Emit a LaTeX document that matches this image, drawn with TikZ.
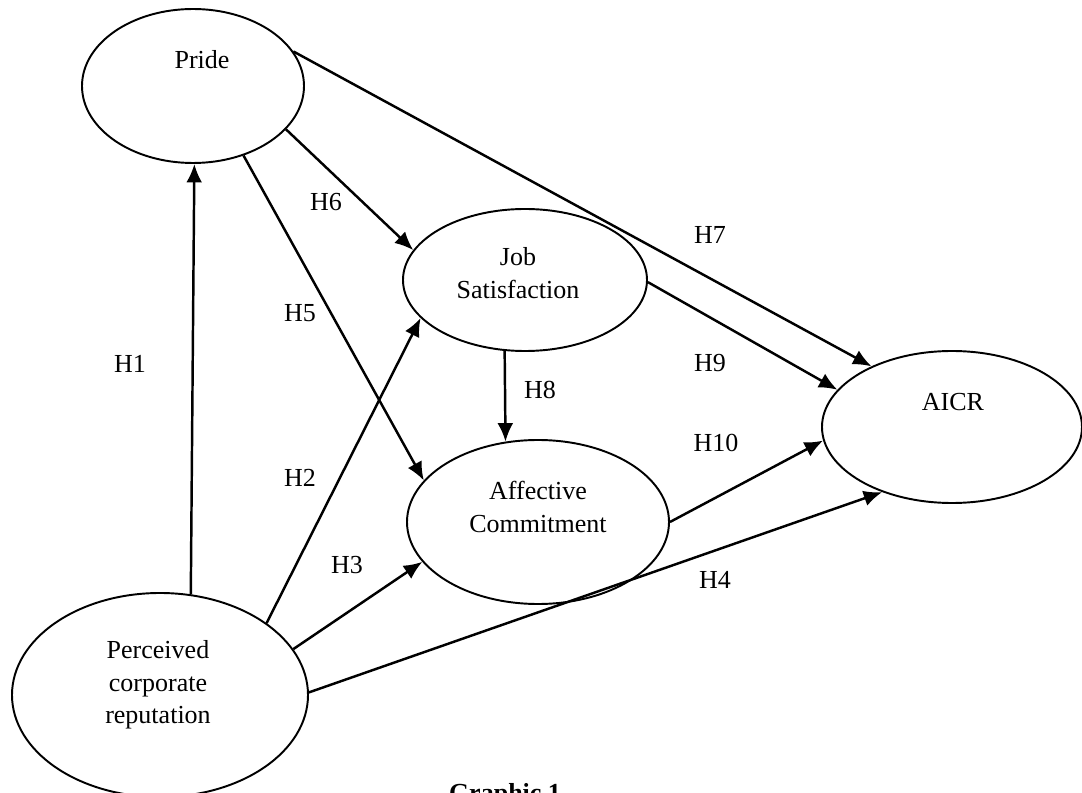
\documentclass[tikz,border=0pt]{standalone}
\usepackage{fontspec}
\setmainfont{Liberation Serif}
\usetikzlibrary{shapes.geometric,arrows.meta}

\tikzstyle{hyp-construct}=[ellipse,
                           draw=black,
                           line width=1.1pt,
                           inner sep=0pt,
                          ]
\tikzstyle{hyp-text}=[align=center,
                      font=\fontsize{14.8pt}{18.5pt}\selectfont]
\tikzstyle{hyp-label}=[font=\fontsize{14.8pt}{18.5pt}\selectfont]
\tikzstyle{hyp-path}=[-{Latex[length=10.5pt, width=9pt]}, line width=1.4pt]

\begin{document}
\begin{tikzpicture}
    \useasboundingbox (0,0) rectangle (21.64,15.84);

    % Constructs
    % --------------------------------------------------------------------------
    \node at ( 3.86, 14.12) (pride) [hyp-construct, minimum width=4.44cm, minimum height=3.08cm] {};
    \node at (10.50, 10.24) (js)    [hyp-construct, minimum width=4.88cm, minimum height=2.84cm] {};
    \node at (10.76,  5.40) (ac)    [hyp-construct, minimum width=5.24cm, minimum height=3.28cm] {};
    \node at (19.04,  7.30) (aicr)  [hyp-construct, minimum width=5.20cm, minimum height=3.04cm] {};
    \node at ( 3.20,  1.94) (pcr)   [hyp-construct, minimum width=5.92cm, minimum height=4.08cm] {};

    \node at ( 4.04, 14.64) (pride_text) [hyp-text] {Pride};
    \node at (10.36, 10.38) (js_text)    [hyp-text] {Job\\Satisfaction};
    \node at (10.76,  5.70) (ac_text)    [hyp-text] {Affective\\Commitment};
    \node at (19.06,  7.80) (aicr_text)  [hyp-text] {AICR};
    \node at ( 3.16,  2.14) (pcr_text)   [hyp-text] {Perceived\\corporate\\reputation};

    % Caption
    % --------------------------------------------------------------------------
    \node at (10.10, -0.20) (caption) [hyp-label, anchor=base] {\textbf{Graphic 1}};

    % Arrows
    % --------------------------------------------------------------------------
    \draw[hyp-path] (pcr.73)    -- (pride.-89);
    \draw[hyp-path] (pride.-54) -- (ac.160);
    \draw[hyp-path] (pride.-25) -- (js.165);
    \draw[hyp-path] (pride.19)  -- (aicr.143);
    \draw[hyp-path] (pcr.34)    -- (js.-160);
    \draw[hyp-path] (pcr.19)    -- (ac.-161);
    \draw[hyp-path] (pcr.1)     -- (aicr.-137);
    \draw[hyp-path] (js.-106)   -- (ac.112);
    \draw[hyp-path] (js.-1)     -- (aicr.162);
    \draw[hyp-path] (ac.0)      -- (aicr.-174);

    % Hypotheses
    % --------------------------------------------------------------------------
    \node at ( 2.60,  8.56) (h1)  [hyp-label] {H1};
    \node at ( 6.00,  6.28) (h2)  [hyp-label] {H2};
    \node at ( 6.94,  4.54) (h3)  [hyp-label] {H3};
    \node at (14.30,  4.24) (h4)  [hyp-label] {H4};
    \node at ( 6.00,  9.58) (h5)  [hyp-label] {H5};
    \node at ( 6.52, 11.80) (h6)  [hyp-label] {H6};
    \node at (14.20, 11.14) (h7)  [hyp-label] {H7};
    \node at (10.80,  8.04) (h8)  [hyp-label] {H8};
    \node at (14.20,  8.58) (h9)  [hyp-label] {H9};
    \node at (14.32,  6.98) (h10) [hyp-label] {H10};

\end{tikzpicture}
\end{document}
